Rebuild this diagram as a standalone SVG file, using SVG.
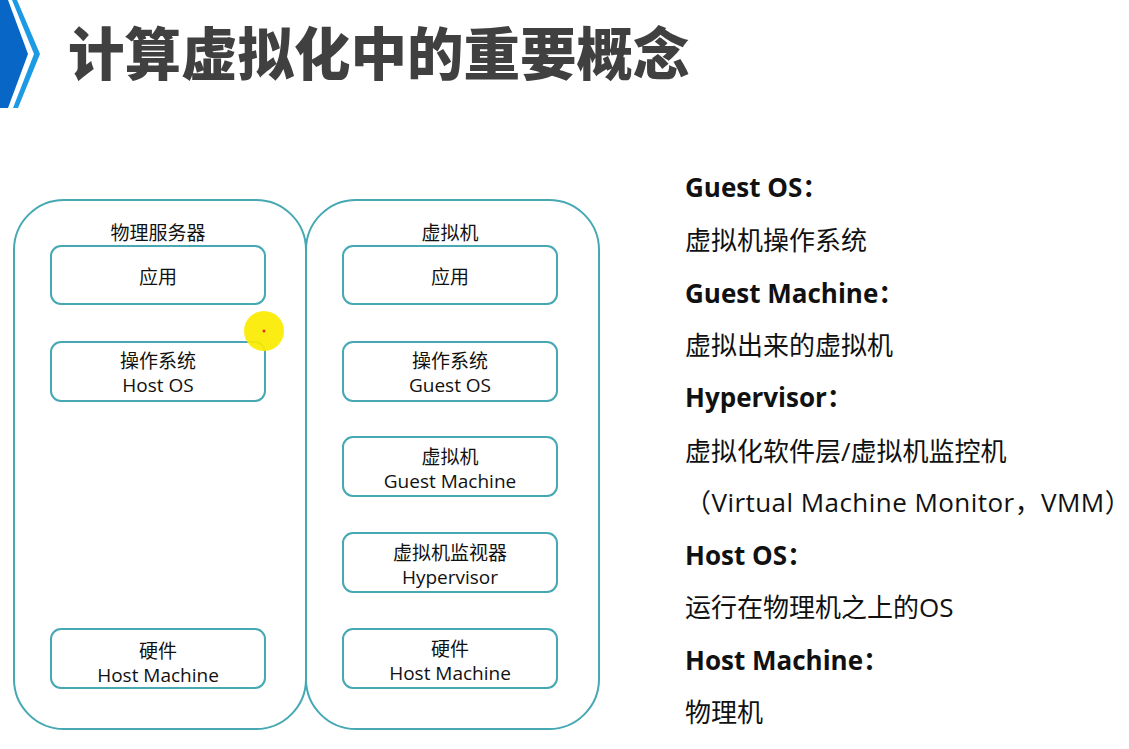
<svg xmlns="http://www.w3.org/2000/svg" width="1129" height="749" viewBox="0 0 1129 749">
<style>
.cont{fill:none;stroke:#45a8b3;stroke-width:2}
.box{fill:#fff;stroke:#45a8b3;stroke-width:2}
.lbl{font-family:"Open Sans","Noto Sans CJK SC",sans-serif;font-size:19px;fill:#111;text-anchor:middle}
.hd{font-family:"Open Sans","Noto Sans CJK SC",sans-serif;font-size:26px;font-weight:bold;fill:#111}
.bd{font-family:"Open Sans","Noto Sans CJK SC",sans-serif;font-size:26px;fill:#111}
</style>
<rect x="0" y="0" width="1129" height="749" fill="#fff"/>
<g id="title">
<polygon points="0,0 8,0 28,54 8,108 0,108" fill="#0866c6"/>
<polygon points="12,0 17,0 40,54 18,108 13,108 34,54" fill="#1c9ae4"/>
<text x="68" y="75" style="font-family:'Noto Sans CJK SC',sans-serif;font-size:56.5px;font-weight:900;fill:#404040">计算虚拟化中的重要概念</text>
</g>
<g id="physical-server">
<rect class="cont" x="14" y="200" width="292" height="529" rx="50"/>
<text class="lbl" x="158" y="240">物理服务器</text>
</g>
<g id="virtual-machine">
<rect class="cont" x="306" y="200" width="293" height="529" rx="50"/>
<text class="lbl" x="450" y="240">虚拟机</text>
</g>
<g id="p-app"><rect class="box" x="51" y="246" width="214" height="58" rx="10"/><text class="lbl" x="158" y="284">应用</text></g>
<g id="p-os"><rect class="box" x="51" y="342" width="214" height="59" rx="10"/><text class="lbl" x="158" y="368">操作系统</text><text class="lbl" x="158" y="392">Host OS</text></g>
<g id="p-hw"><rect class="box" x="51" y="629" width="214" height="59" rx="10"/><text class="lbl" x="158" y="658">硬件</text><text class="lbl" x="158" y="682">Host Machine</text></g>
<g id="v-app"><rect class="box" x="343" y="246" width="214" height="58" rx="10"/><text class="lbl" x="450" y="284">应用</text></g>
<g id="v-os"><rect class="box" x="343" y="342" width="214" height="59" rx="10"/><text class="lbl" x="450" y="368">操作系统</text><text class="lbl" x="450" y="392">Guest OS</text></g>
<g id="v-gm"><rect class="box" x="343" y="437" width="214" height="59" rx="10"/><text class="lbl" x="450" y="464">虚拟机</text><text class="lbl" x="450" y="488">Guest Machine</text></g>
<g id="v-hv"><rect class="box" x="343" y="533" width="214" height="59" rx="10"/><text class="lbl" x="450" y="560">虚拟机监视器</text><text class="lbl" x="450" y="584">Hypervisor</text></g>
<g id="v-hw"><rect class="box" x="343" y="629" width="214" height="59" rx="10"/><text class="lbl" x="450" y="656">硬件</text><text class="lbl" x="450" y="680">Host Machine</text></g>
<g id="connectors"></g>
<g id="cursor">
<circle cx="264" cy="331" r="20" fill="#fbec00" fill-opacity="0.92"/>
<circle cx="264" cy="331" r="1.5" fill="#e03020"/>
</g>
<g id="glossary">
<text class="hd" x="685" y="197">Guest OS：</text>
<text class="bd" x="685" y="250">虚拟机操作系统</text>
<text class="hd" x="685" y="303">Guest Machine：</text>
<text class="bd" x="685" y="355">虚拟出来的虚拟机</text>
<text class="hd" x="685" y="407">Hypervisor：</text>
<text class="bd" x="685" y="461">虚拟化软件层/虚拟机监控机</text>
<text class="bd" x="685" y="512" letter-spacing="0.45">（Virtual Machine Monitor，VMM）</text>
<text class="hd" x="685" y="565">Host OS：</text>
<text class="bd" x="685" y="617">运行在物理机之上的OS</text>
<text class="hd" x="685" y="670">Host Machine：</text>
<text class="bd" x="685" y="722">物理机</text>
</g>
</svg>
